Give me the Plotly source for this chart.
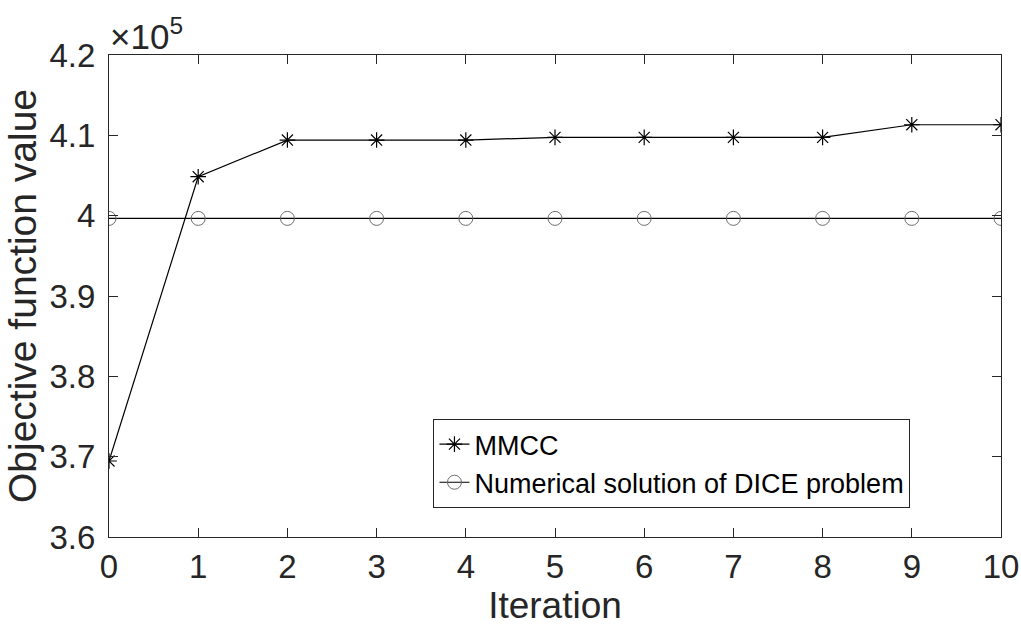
import plotly.graph_objects as go

# Iteration history of the objective function
iterations = [0, 1, 2, 3, 4, 5, 6, 7, 8, 9, 10]
mmcc_values = [369460, 404850, 409410, 409410, 409410, 409750, 409750,
               409750, 409750, 411320, 411320]
dice_values = [399660] * 11

y_tick_vals = [360000, 370000, 380000, 390000, 400000, 410000, 420000]
y_tick_text = ["3.6", "3.7", "3.8", "3.9", "4", "4.1", "4.2"]
x_tick_vals = list(range(0, 11))

FONT = "Liberation Sans, Arial, Helvetica, sans-serif"
INK = "#262626"

fig = go.Figure()
fig.add_trace(go.Scatter(
    x=iterations, y=mmcc_values, mode="lines+markers", name="MMCC",
    line=dict(color="black", width=1.2),
    marker=dict(symbol="asterisk-open", size=13, color="black",
                line=dict(color="black", width=1.2)),
))
fig.add_trace(go.Scatter(
    x=iterations, y=dice_values, mode="lines+markers",
    name="Numerical solution of DICE problem",
    line=dict(color="black", width=1.2),
    marker=dict(symbol="circle-open", size=14, color="#6e6e6e",
                line=dict(color="#6e6e6e", width=1)),
))

axis_common = dict(
    showgrid=False, zeroline=False, showline=True, linecolor=INK,
    linewidth=1, mirror="ticks", ticks="inside", ticklen=9,
    tickwidth=1, tickcolor=INK, automargin=False,
    ticklabeloverflow="allow",
    tickfont=dict(family=FONT, size=33, color=INK),
)

fig.update_xaxes(
    range=[0, 10], tickvals=x_tick_vals,
    title=dict(text="Iteration", font=dict(family=FONT, size=37, color=INK),
               standoff=4),
    **axis_common,
)
fig.update_yaxes(
    range=[360000, 420000], tickvals=y_tick_vals, ticktext=y_tick_text,
    ticklabelstandoff=6,
    title=dict(text="Objective function value",
               font=dict(family=FONT, size=39, color=INK), standoff=0),
    **axis_common,
)

fig.add_annotation(
    x=0, y=1, xref="paper", yref="paper", xanchor="left", yanchor="bottom",
    text="×10<sup>5</sup>", showarrow=False,
    font=dict(family=FONT, size=35, color=INK), xshift=-1, yshift=-3,
)

fig.update_layout(
    width=1021, height=630,
    margin=dict(l=109, r=20, t=55, b=93),
    paper_bgcolor="white", plot_bgcolor="white",
    legend=dict(
        x=0.8985, y=0.06, xanchor="right", yanchor="bottom",
        bgcolor="white", bordercolor=INK, borderwidth=1,
        font=dict(family=FONT, size=27, color="black"),
        itemwidth=30, tracegroupgap=0,
    ),
    showlegend=True,
)

fig.write_html("out.html")
